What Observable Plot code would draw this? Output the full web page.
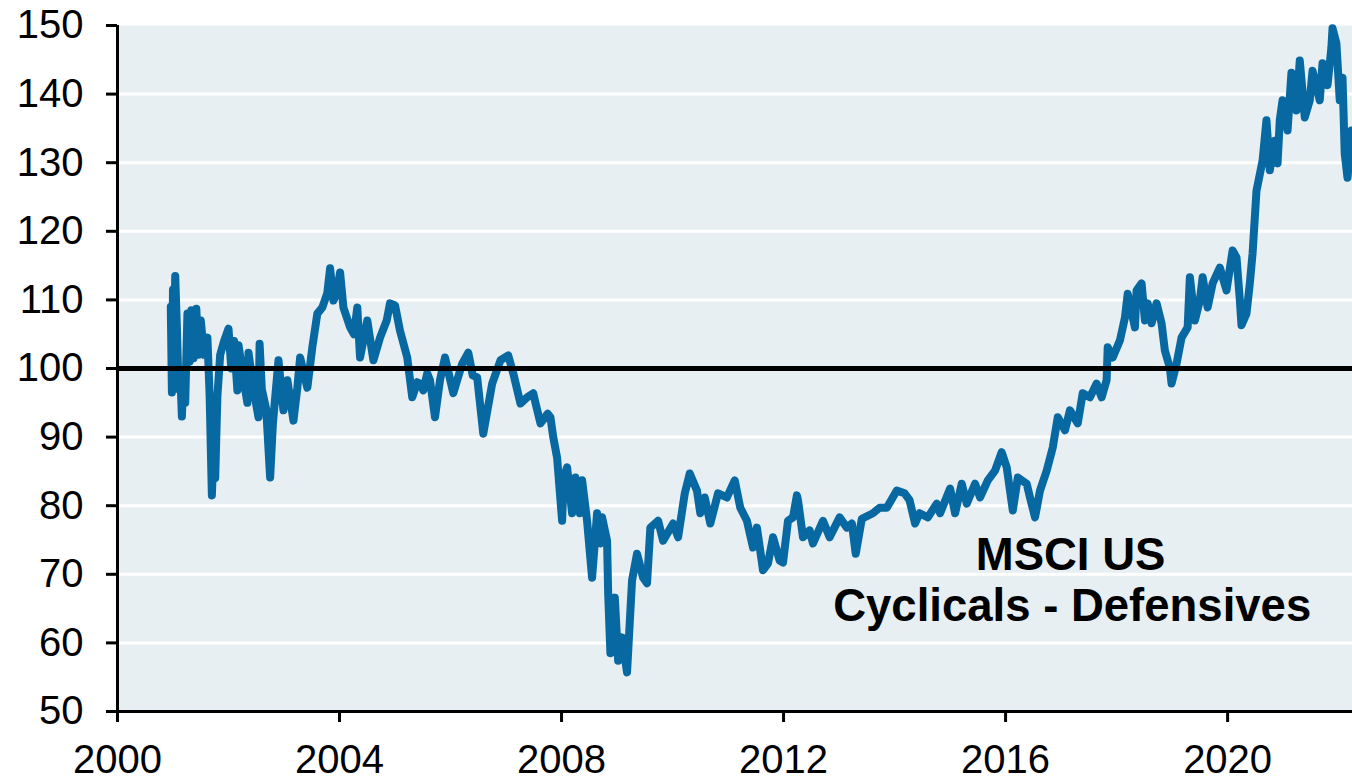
<!DOCTYPE html>
<html>
<head>
<meta charset="utf-8">
<script src="https://cdn.jsdelivr.net/npm/d3@7"></script>
<script src="https://cdn.jsdelivr.net/npm/@observablehq/plot@0.6"></script>
<style>
  html, body { margin: 0; padding: 0; background: #ffffff; }
  #chart svg { display: block; }
</style>
</head>
<body>
<div id="chart"></div>
<script>
// decimal years
const dates = [
  2000.96, 2000.98, 2001.00, 2001.02, 2001.04, 2001.07, 2001.10, 2001.13, 2001.16, 2001.19,
  2001.22, 2001.26, 2001.30, 2001.33, 2001.37, 2001.42, 2001.46, 2001.50, 2001.56, 2001.62,
  2001.66, 2001.70, 2001.73, 2001.76, 2001.80, 2001.85, 2001.92, 2002.00, 2002.05, 2002.10,
  2002.16, 2002.18, 2002.26, 2002.34, 2002.36, 2002.45, 2002.54, 2002.56, 2002.60, 2002.68,
  2002.75, 2002.80, 2002.90, 2002.99, 2003.06, 2003.17, 2003.24, 2003.29, 2003.42, 2003.51,
  2003.60, 2003.69, 2003.78, 2003.83, 2003.89, 2003.95, 2004.01, 2004.07, 2004.19, 2004.26,
  2004.32, 2004.37, 2004.50, 2004.61, 2004.73, 2004.85, 2004.91, 2005.00, 2005.09, 2005.22,
  2005.31, 2005.40, 2005.45, 2005.51, 2005.58, 2005.63, 2005.72, 2005.81, 2005.90, 2006.05,
  2006.21, 2006.32, 2006.40, 2006.48, 2006.59, 2006.75, 2006.90, 2007.04, 2007.13, 2007.26,
  2007.38, 2007.49, 2007.53, 2007.62, 2007.75, 2007.80, 2007.85, 2007.92, 2008.01, 2008.04,
  2008.10, 2008.19, 2008.25, 2008.33, 2008.37, 2008.46, 2008.55, 2008.64, 2008.70, 2008.73,
  2008.82, 2008.84, 2008.88, 2008.96, 2009.02, 2009.09, 2009.18, 2009.27, 2009.36, 2009.47,
  2009.54, 2009.60, 2009.74, 2009.83, 2010.01, 2010.10, 2010.22, 2010.31, 2010.44, 2010.50,
  2010.58, 2010.68, 2010.82, 2010.98, 2011.12, 2011.22, 2011.34, 2011.45, 2011.52, 2011.63,
  2011.72, 2011.81, 2011.93, 2011.99, 2012.08, 2012.17, 2012.24, 2012.26, 2012.35, 2012.47,
  2012.53, 2012.71, 2012.83, 2013.01, 2013.14, 2013.23, 2013.30, 2013.41, 2013.61, 2013.73,
  2013.86, 2014.04, 2014.18, 2014.27, 2014.37, 2014.45, 2014.60, 2014.76, 2014.82, 2015.00,
  2015.09, 2015.21, 2015.30, 2015.45, 2015.54, 2015.68, 2015.81, 2015.93, 2016.02, 2016.13,
  2016.22, 2016.38, 2016.44, 2016.53, 2016.62, 2016.74, 2016.85, 2016.94, 2017.07, 2017.16,
  2017.30, 2017.39, 2017.52, 2017.64, 2017.73, 2017.82, 2017.84, 2017.93, 2018.06, 2018.15,
  2018.20, 2018.33, 2018.36, 2018.45, 2018.51, 2018.56, 2018.63, 2018.72, 2018.81, 2018.87,
  2018.96, 2018.99, 2019.08, 2019.17, 2019.28, 2019.32, 2019.41, 2019.50, 2019.55, 2019.64,
  2019.73, 2019.86, 2019.98, 2020.09, 2020.16, 2020.22, 2020.25, 2020.34, 2020.40, 2020.45,
  2020.52, 2020.63, 2020.70, 2020.76, 2020.85, 2020.90, 2020.94, 2020.99, 2021.08, 2021.15,
  2021.24, 2021.30, 2021.39, 2021.48, 2021.53, 2021.66, 2021.71, 2021.80, 2021.87, 2021.89,
  2021.96, 2022.02, 2022.07, 2022.11, 2022.16, 2022.23
];

// MSCI US Cyclicals / Defensives relative index
const ratio = [
  109, 96.5, 111.5, 104, 113.5, 106, 97, 99.5, 93, 99,
  95, 108, 101, 108.5, 101.5, 108.7, 102, 107, 102, 104.5,
  96, 81.5, 88, 84, 96, 102, 104, 105.8, 100, 104,
  96.8, 103.4, 99, 95, 102.3, 97, 92.9, 103.6, 97, 94,
  84.1, 92, 101.2, 93.9, 98.3, 92.4, 97.2, 101.6, 97.2, 103.1,
  108, 108.9, 111, 114.6, 109.9, 111, 114, 108.9, 106, 105,
  108.9, 101.6, 107, 101.2, 104.5, 107, 109.5, 109.2, 105.5, 101.6,
  95.8, 98, 97.8, 96.8, 99.3, 98.3, 92.9, 98.3, 101.6, 96.4,
  100.7, 102.3, 99, 98.7, 90.5, 97.8, 101.2, 101.9, 99.3, 94.9,
  95.8, 96.4, 95, 92, 93.4, 92.9, 90, 87, 77.8, 84,
  85.6, 78.9, 84.1, 78.9, 83.7, 77.8, 69.5, 78.9, 74.5, 78.3,
  74.9, 67.2, 58.5, 66.6, 57.4, 60.8, 55.7, 69.1, 73, 69.5,
  68.7, 76.8, 77.8, 74.9, 77.4, 75.4, 81.8, 84.7, 82.2, 78.9,
  81.2, 77.4, 81.8, 81.2, 83.7, 79.7, 77.8, 73.9, 76.8, 70.6,
  71.6, 75.4, 72, 71.7, 77.8, 78.3, 81.5, 80.8, 75.4, 76.4,
  74.5, 77.8, 75.4, 78.3, 76.8, 77.4, 73, 78.1, 78.9, 79.7,
  79.7, 82.2, 81.8, 80.8, 77.4, 78.9, 78.3, 80.3, 78.9, 82.5,
  78.9, 83.2, 80.3, 83.2, 81.2, 83.7, 85.1, 87.8, 85.6, 79.3,
  84.1, 83.2, 81.2, 78.3, 82.2, 85.1, 88.5, 92.9, 91.0, 93.9,
  92.0, 96.4, 95.8, 97.8, 95.8, 98.3, 103.1, 101.6, 104.1, 107.4,
  110.9, 106, 111.4, 112.4, 107, 109.5, 106.6, 109.5, 106.6, 102.6,
  100.1, 97.8, 100.7, 104.5, 106, 113.3, 107, 109.9, 113.3, 108.9,
  112.4, 114.7, 111.4, 117.2, 116.2, 110, 106.3, 108, 112.4, 116.8,
  125.9, 130.3, 136.2, 128.9, 133.2, 129.9, 136.2, 139.1, 134.7, 143.1,
  137.6, 144.9, 136.6, 139.1, 143.4, 139.1, 144.5, 141.3, 146.8, 149.6,
  147.4, 139.1, 142.4, 131.3, 127.8, 134.7
];

const xTicks = [2000, 2004, 2008, 2012, 2016, 2020];
const yTicks = [50, 60, 70, 80, 90, 100, 110, 120, 130, 140, 150];
const gridLines = [60, 70, 80, 90, 110, 120, 130, 140];
const baseline = [100];
const labelLines = ["MSCI US", "Cyclicals - Defensives"];
const labelYears = [2017.17, 2017.2];
const labelValues = [72.8, 65.3];

const series = dates.map((d, i) => ({date: d, value: ratio[i]}));
const labels = labelLines.map((t, i) => ({text: t, x: labelYears[i], y: labelValues[i]}));

const font = "'Liberation Sans', Arial, Helvetica, sans-serif";

const chart = Plot.plot({
  width: 1352,
  height: 780,
  marginLeft: 117,
  marginRight: 0,
  marginTop: 25,
  marginBottom: 69,
  style: {fontFamily: font, fontSize: "40px", color: "black", background: "white"},
  x: {domain: [2000, 2022.25], axis: null},
  y: {domain: [50, 150], axis: null},
  marks: [
    Plot.frame({fill: "#e7eff2", stroke: "none"}),
    Plot.ruleY(gridLines, {stroke: "white", strokeWidth: 3}),
    Plot.line(series, {x: "date", y: "value", stroke: "#0868a1", strokeWidth: 8, strokeLinejoin: "round", strokeLinecap: "round"}),
    Plot.ruleY(baseline, {stroke: "black", strokeWidth: 5}),
    Plot.text(labels, {x: "x", y: "y", text: "text", fontSize: 45.5, fontWeight: "bold", fill: "black", textAnchor: "middle"}),
    Plot.axisY({ticks: yTicks, tickSize: 11, tickPadding: 23, strokeWidth: 3, fontSize: 40, tickFormat: d => String(d), label: null}),
    Plot.axisX({ticks: xTicks, tickSize: 11, tickPadding: 22, strokeWidth: 3, fontSize: 40, tickFormat: d => String(d), label: null}),
    Plot.ruleX([2000], {stroke: "black", strokeWidth: 3}),
    Plot.ruleY([50], {stroke: "black", strokeWidth: 3})
  ]
});

document.getElementById("chart").appendChild(chart);
</script>
</body>
</html>
